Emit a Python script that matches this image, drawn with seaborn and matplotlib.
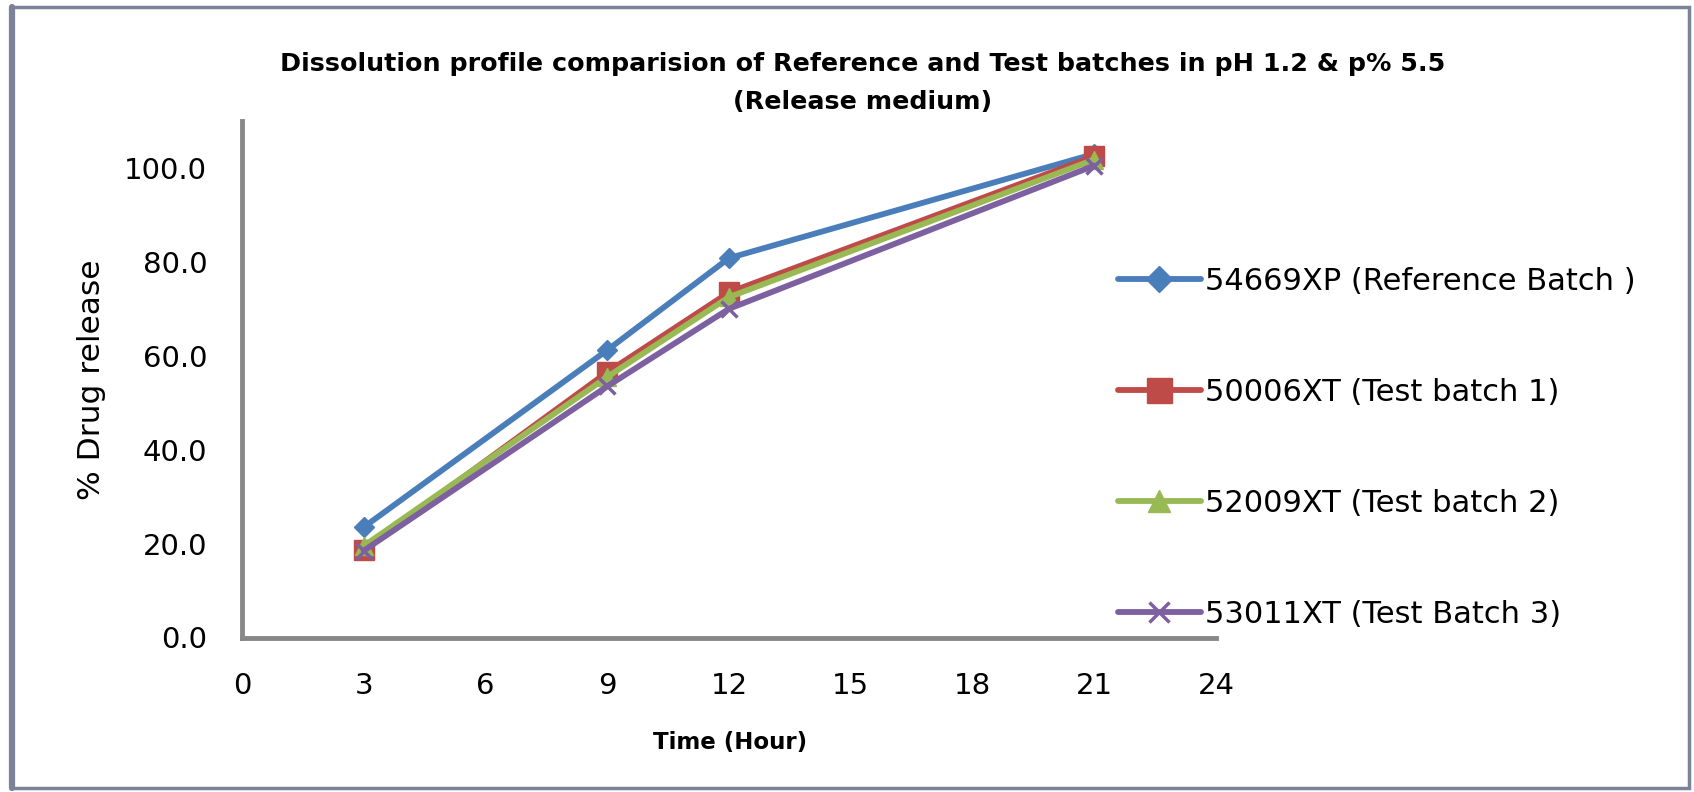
import matplotlib
matplotlib.use("Agg")
import matplotlib.pyplot as plt
import seaborn as sns
import pandas as pd
from matplotlib.patches import Rectangle
from matplotlib.lines import Line2D

# ---- data ----
time_hours = [3, 9, 12, 21]
series_names = ["54669XP (Reference Batch )", "50006XT (Test batch 1)",
                "52009XT (Test batch 2)", "53011XT (Test Batch 3)"]
ref_batch = [23.5, 61.2, 80.8, 103.0]
test_batch_1 = [18.7, 56.5, 73.5, 102.5]
test_batch_2 = [19.5, 55.5, 72.5, 101.8]
test_batch_3 = [18.5, 53.5, 70.0, 100.5]
x_ticks = [0, 3, 6, 9, 12, 15, 18, 21, 24]
y_ticks = [0, 20, 40, 60, 80, 100]

title = ("Dissolution profile comparision of Reference and Test batches in pH 1.2 & p% 5.5\n"
         "(Release medium)")

colors = ["#4a7ebb", "#be4b48", "#98b954", "#7d60a0"]
markers = ["D", "s", "^", "x"]
msizes = [10, 15, 13, 12]

sns.set_style("white")
plt.rcParams["font.family"] = ["DejaVu Sans"]
plt.rcParams["text.color"] = "black"

fig = plt.figure(figsize=(16.94, 7.92), dpi=100)
ax = fig.add_axes([242 / 1694, 1 - 637.5 / 792, (1216 - 242) / 1694, (637.5 - 121) / 792])

df = pd.DataFrame({
    "time": time_hours * 4,
    "value": ref_batch + test_batch_1 + test_batch_2 + test_batch_3,
    "series": [n for n in series_names for _ in time_hours],
})

for i, name in enumerate(series_names):
    sub = df[df["series"] == name]
    sns.lineplot(data=sub, x="time", y="value", ax=ax, color=colors[i],
                 marker=markers[i], markersize=msizes[i], linewidth=4.2,
                 markeredgecolor=colors[i], markeredgewidth=2.5 if markers[i] == "x" else 1,
                 legend=False)

ax.set_xlim(0, 24)
ax.set_ylim(0, 110)
ax.set_xticks(x_ticks)
ax.set_yticks(y_ticks)
ax.set_yticklabels([f"{v:.1f}" for v in y_ticks])
ax.set_xticklabels([str(v) for v in x_ticks])
ax.tick_params(axis="both", labelsize=21, colors="#888888", length=7, width=2,
               direction="out", labelcolor="black")
ax.tick_params(axis="x", pad=18)
ax.tick_params(axis="y", pad=18)
for s in ["top", "right"]:
    ax.spines[s].set_visible(False)
for s in ["left", "bottom"]:
    ax.spines[s].set_color("#888888")
    ax.spines[s].set_linewidth(3.5)

ax.set_xlabel("")
ax.set_ylabel("")
fig.text(92 / 1694, 1 - 380 / 792, "% Drug release", rotation=90, fontsize=22.5,
         ha="center", va="center", color="black")
fig.text(730 / 1694, 1 - 743 / 792, "Time (Hour)", fontsize=16.5, fontweight="bold",
         ha="center", va="center", color="black")
fig.text(863 / 1694, 1 - 83 / 792, title, fontsize=18.3, fontweight="bold",
         ha="center", va="center", linespacing=1.75, color="black")

handles = [Line2D([0], [0], color=colors[i], marker=markers[i], markersize=msizes[i] + 3,
                  linewidth=4.2, markeredgecolor=colors[i],
                  markeredgewidth=2.5 if markers[i] == "x" else 1)
           for i in range(4)]
leg = fig.legend(handles, series_names, loc="center left",
                 bbox_to_anchor=(1118 / 1694, 1 - 448 / 792), frameon=False,
                 fontsize=22, handlelength=2.7, handletextpad=0.15, labelspacing=2.68,
                 borderpad=0, borderaxespad=0)
for t in leg.get_texts():
    t.set_color("black")

# outer border
fig.patches.append(Rectangle((12 / 1694, 4 / 792), (1689 - 12) / 1694, (785 - 4) / 792,
                             transform=fig.transFigure, fill=False,
                             edgecolor="#7b8299", linewidth=2.5))
fig.lines.append(Line2D([12 / 1694, 12 / 1694], [4 / 792, 785 / 792],
                        transform=fig.transFigure, color="#7b8299", linewidth=4.5))

fig.savefig("out.png", dpi=100)
